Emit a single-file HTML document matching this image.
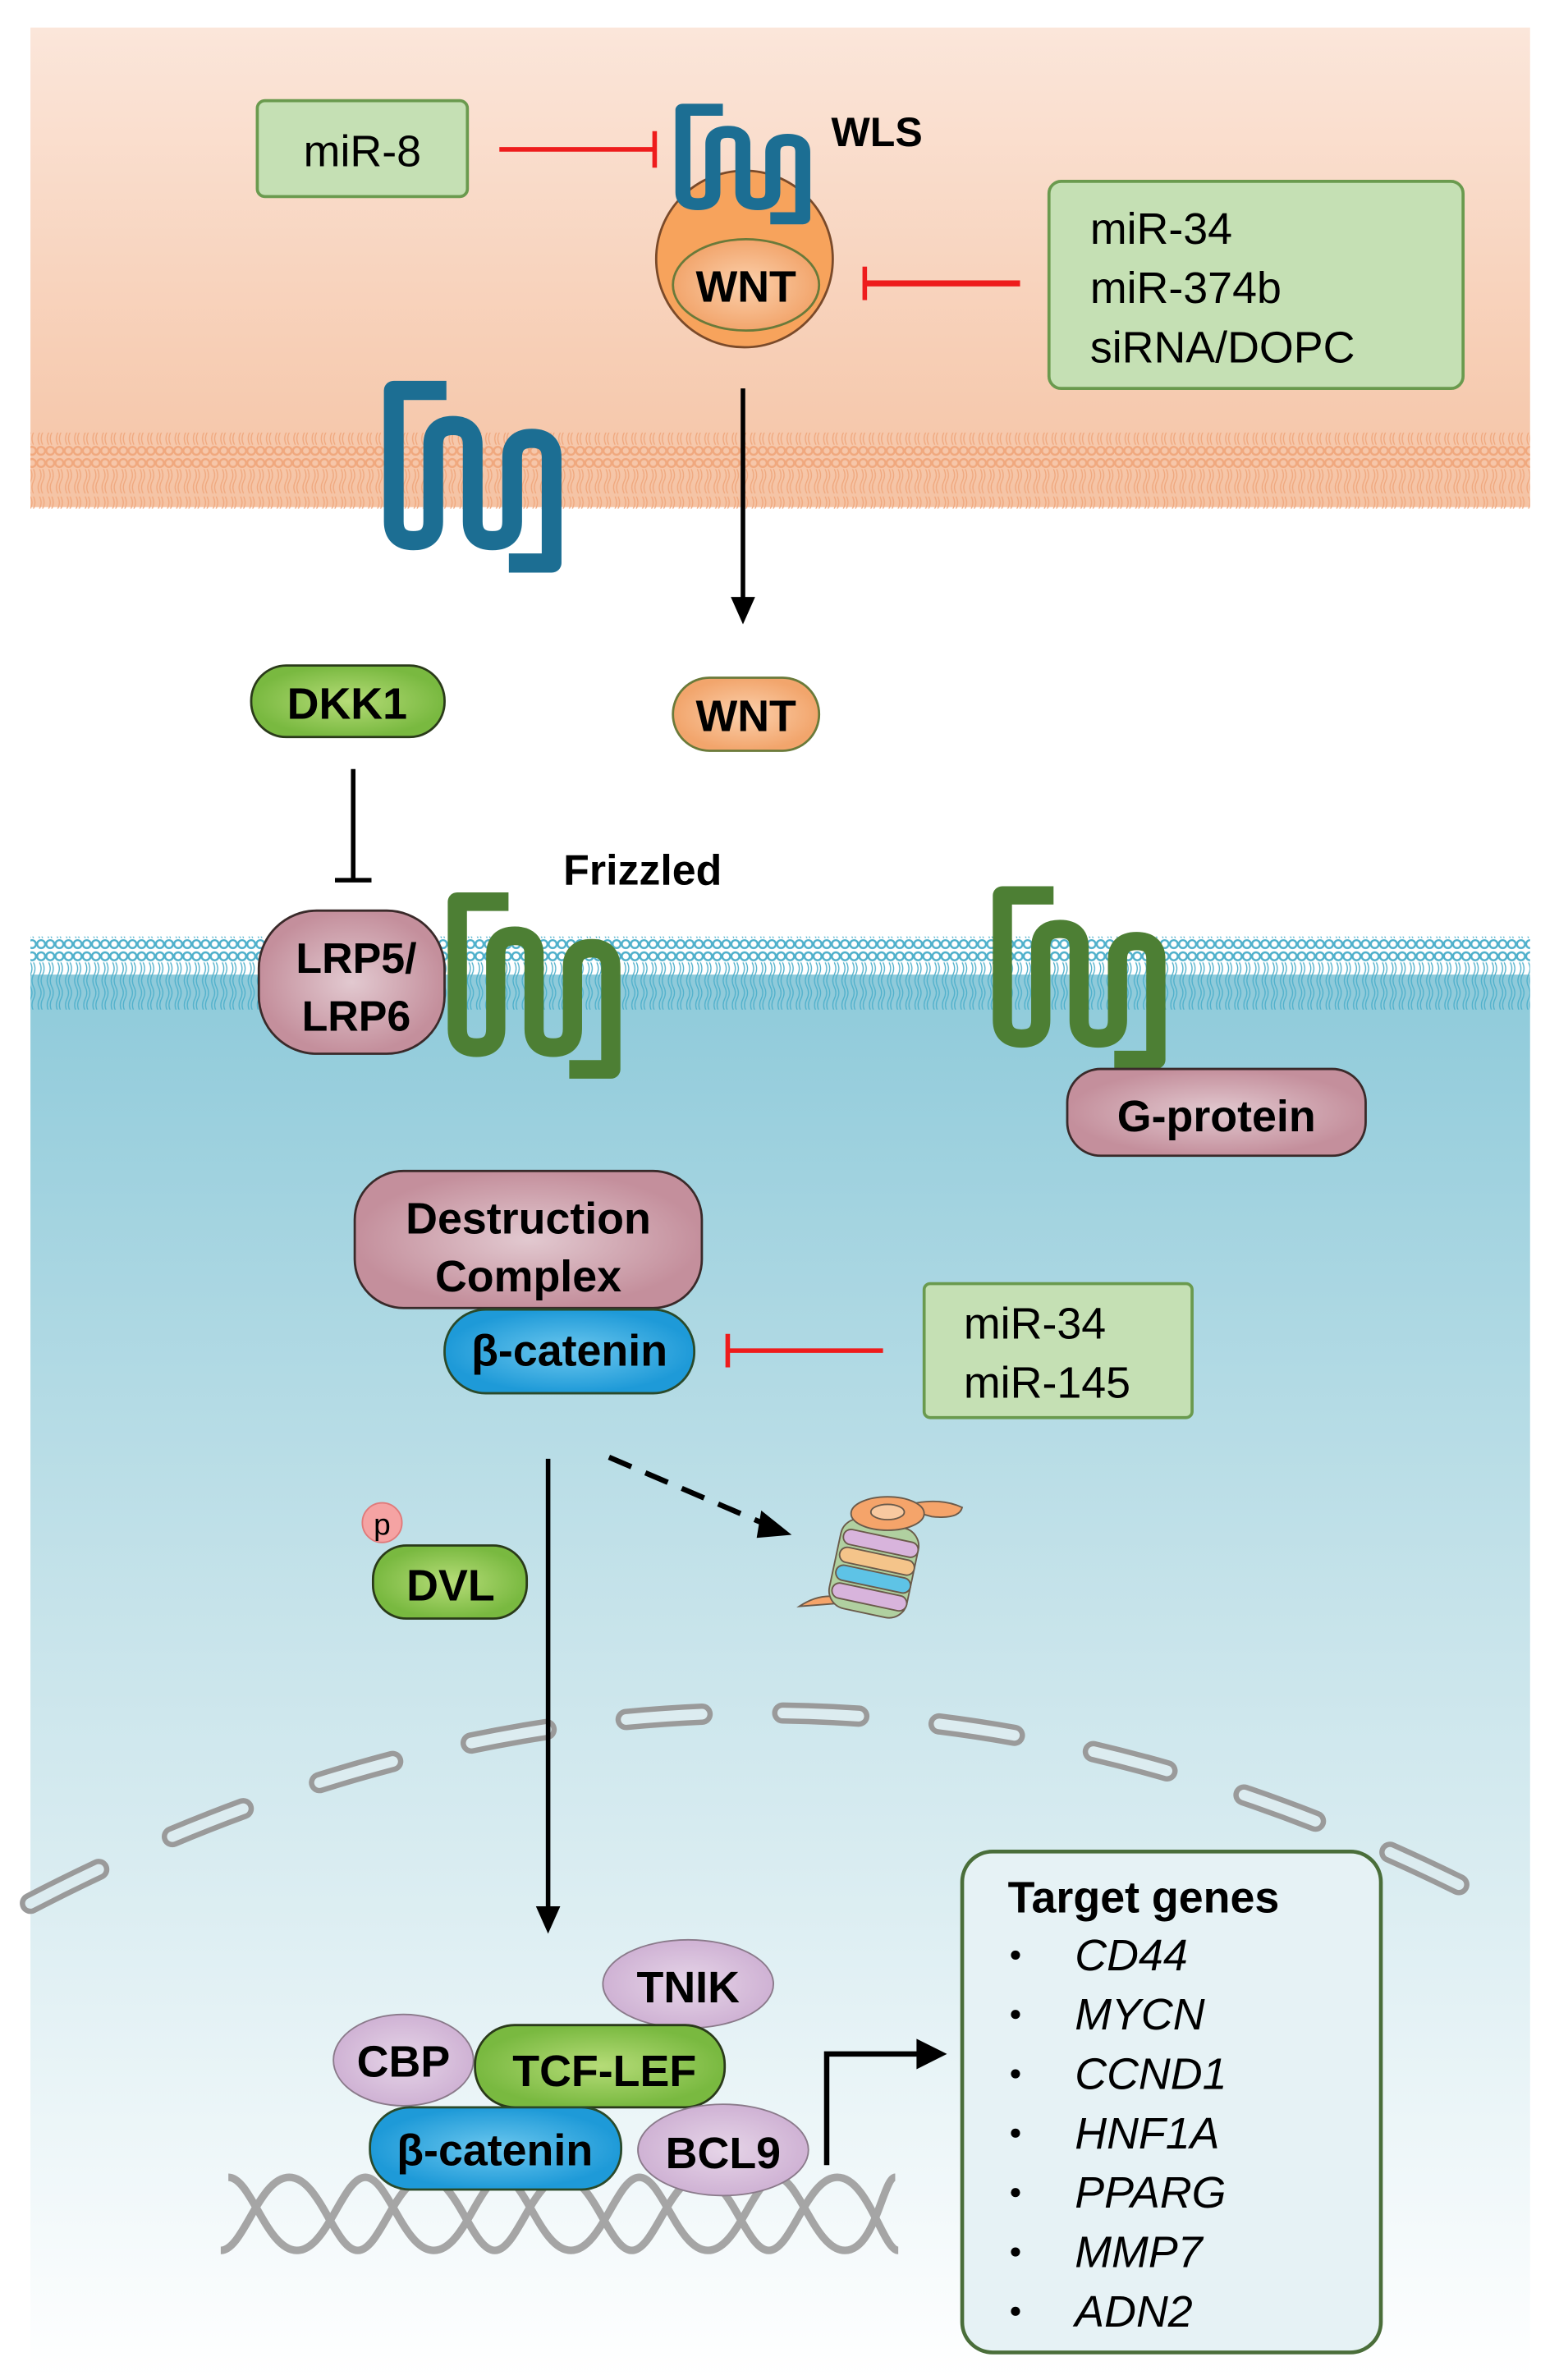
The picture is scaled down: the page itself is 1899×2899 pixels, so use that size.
<!DOCTYPE html>
<html><head><meta charset="utf-8"><style>html,body{margin:0;padding:0;background:#fff}svg{display:block}</style></head>
<body>
<svg width="1899" height="2899" viewBox="0 0 1024 1563" xmlns="http://www.w3.org/2000/svg" font-family="Liberation Sans, sans-serif">
<defs>
<linearGradient id="peach" x1="0" y1="0" x2="0" y2="1"><stop offset="0" stop-color="#fbe6da"/><stop offset="1" stop-color="#f5c3a4"/></linearGradient>
<linearGradient id="blue" x1="0" y1="0" x2="0" y2="1"><stop offset="0" stop-color="#8ecada"/><stop offset="0.45" stop-color="#c6e3ea"/><stop offset="1" stop-color="#ffffff"/></linearGradient>
<pattern id="lipP" width="6" height="50" patternUnits="userSpaceOnUse"><circle cx="3" cy="4" r="2.6" fill="none" stroke="#f0a87e" stroke-width="1.3"/><circle cx="3" cy="46" r="2.6" fill="none" stroke="#f0a87e" stroke-width="1.3"/><path d="M2,8 q2,4 0,8 q-2,4 0,8 M4,8 q2,4 0,8 q-2,4 0,8 M2,26 q2,4 0,8 q-2,4 0,8 M4,26 q2,4 0,8 q-2,4 0,8" fill="none" stroke="#f0a87e" stroke-width="0.7"/></pattern>
<pattern id="lipB" width="6" height="48" patternUnits="userSpaceOnUse"><circle cx="3" cy="4" r="2.6" fill="none" stroke="#4fb0cb" stroke-width="1.3"/><circle cx="3" cy="44" r="2.6" fill="none" stroke="#4fb0cb" stroke-width="1.3"/><path d="M2,8 q2,4 0,8 q-2,4 0,8 M4,8 q2,4 0,8 q-2,4 0,8 M2,24 q2,4 0,8 q-2,4 0,8 M4,24 q2,4 0,8 q-2,4 0,8" fill="none" stroke="#4fb0cb" stroke-width="0.7"/></pattern>
<radialGradient id="pink"><stop offset="0" stop-color="#e2c9d0"/><stop offset="1" stop-color="#c48f9c"/></radialGradient>
<radialGradient id="green"><stop offset="0" stop-color="#b6dc78"/><stop offset="1" stop-color="#79b940"/></radialGradient>
<radialGradient id="orange"><stop offset="0" stop-color="#fbd0ac"/><stop offset="1" stop-color="#f2a56c"/></radialGradient>
<radialGradient id="bcat"><stop offset="0" stop-color="#6cc7ee"/><stop offset="1" stop-color="#1e9ad8"/></radialGradient>
<radialGradient id="lav"><stop offset="0" stop-color="#e6d5e8"/><stop offset="1" stop-color="#cfb2d4"/></radialGradient>
<path id="serp" d="M40,6 H8 V88 Q8,100 20,100 Q32,100 32,88 V40 Q32,28 44,28 Q56,28 56,40 V88 Q56,100 68,100 Q80,100 80,88 V48 Q80,36 92,36 Q104,36 104,48 V114 H78" fill="none" stroke-width="12" stroke-linejoin="round"/>
</defs>

<rect x="20" y="18" width="985" height="315" fill="url(#peach)"/>
<rect x="20" y="284" width="985" height="50" fill="url(#lipP)"/>
<rect x="20" y="640" width="985" height="923" fill="url(#blue)"/>
<rect x="20" y="615" width="985" height="48" fill="url(#lipB)"/>

<path d="M20,1250 Q512,994 1005,1262" fill="none" stroke="#9a9a9a" stroke-width="14" stroke-dasharray="50,53" stroke-linecap="round"/>
<path d="M20,1250 Q512,994 1005,1262" fill="none" stroke="#dcecf0" stroke-width="7" stroke-dasharray="50,53" stroke-linecap="round"/>

<rect x="169" y="66" width="138" height="63" rx="5" fill="#c5e0b4" stroke="#6a9a4e" stroke-width="2"/>
<text x="238" y="109" font-size="29" text-anchor="middle">miR-8</text>
<line x1="328" y1="98" x2="430" y2="98" stroke="#ee1c1c" stroke-width="3"/>
<line x1="430" y1="86" x2="430" y2="110" stroke="#ee1c1c" stroke-width="3"/>

<ellipse cx="489" cy="170" rx="58" ry="58" fill="#f7a35c" stroke="#7a4a2a" stroke-width="1.5"/>
<use href="#serp" transform="translate(442,68) scale(0.82,0.66)" stroke="#1c6e93"/>
<ellipse cx="490" cy="187" rx="48" ry="30" fill="url(#orange)" stroke="#6a7a3a" stroke-width="1.5"/>
<text x="490" y="198" font-size="29" font-weight="bold" text-anchor="middle">WNT</text>
<text x="546" y="96" font-size="27" font-weight="bold">WLS</text>

<rect x="689" y="119" width="272" height="136" rx="8" fill="#c5e0b4" stroke="#6a9a4e" stroke-width="2"/>
<text x="716" y="160" font-size="29">miR-34</text>
<text x="716" y="199" font-size="29">miR-374b</text>
<text x="716" y="238" font-size="29">siRNA/DOPC</text>
<line x1="568" y1="186" x2="670" y2="186" stroke="#ee1c1c" stroke-width="4"/>
<line x1="568" y1="175" x2="568" y2="197" stroke="#ee1c1c" stroke-width="3"/>

<use href="#serp" transform="translate(250,250) scale(1.08,1.05)" stroke="#1c6e93"/>

<line x1="488" y1="255" x2="488" y2="395" stroke="#000" stroke-width="3"/>
<polygon points="480,392 496,392 488,410" fill="#000"/>

<rect x="165" y="437" width="127" height="47" rx="23" fill="url(#green)" stroke="#2a3a1a" stroke-width="1.5"/>
<text x="228" y="472" font-size="29" font-weight="bold" text-anchor="middle">DKK1</text>
<rect x="442" y="445" width="96" height="48" rx="24" fill="url(#orange)" stroke="#6a7a3a" stroke-width="1.5"/>
<text x="490" y="480" font-size="29" font-weight="bold" text-anchor="middle">WNT</text>
<line x1="232" y1="505" x2="232" y2="578" stroke="#000" stroke-width="3"/>
<line x1="220" y1="578" x2="244" y2="578" stroke="#000" stroke-width="3"/>

<text x="370" y="581" font-size="28" font-weight="bold">Frizzled</text>
<use href="#serp" transform="translate(292,586) scale(1.05,1.02)" stroke="#4d7f34"/>
<use href="#serp" transform="translate(650,582) scale(1.05,1.0)" stroke="#4d7f34"/>
<rect x="170" y="598" width="122" height="94" rx="38" fill="url(#pink)" stroke="#3a2a2a" stroke-width="1.5"/>
<text x="234" y="639" font-size="28" font-weight="bold" text-anchor="middle">LRP5/</text>
<text x="234" y="677" font-size="28" font-weight="bold" text-anchor="middle">LRP6</text>

<rect x="701" y="702" width="196" height="57" rx="22" fill="url(#pink)" stroke="#3a2a2a" stroke-width="1.5"/>
<text x="799" y="743" font-size="29" font-weight="bold" text-anchor="middle">G-protein</text>

<rect x="233" y="769" width="228" height="90" rx="32" fill="url(#pink)" stroke="#3a2a2a" stroke-width="1.5"/>
<text x="347" y="810" font-size="29" font-weight="bold" text-anchor="middle">Destruction</text>
<text x="347" y="848" font-size="29" font-weight="bold" text-anchor="middle">Complex</text>
<rect x="292" y="860" width="164" height="55" rx="27" fill="url(#bcat)" stroke="#2a4a2a" stroke-width="1.5"/>
<text x="374" y="897" font-size="29" font-weight="bold" text-anchor="middle">β-catenin</text>
<line x1="478" y1="887" x2="580" y2="887" stroke="#ee1c1c" stroke-width="3"/>
<line x1="478" y1="876" x2="478" y2="898" stroke="#ee1c1c" stroke-width="3"/>
<rect x="607" y="843" width="176" height="88" rx="4" fill="#c5e0b4" stroke="#6a9a4e" stroke-width="2"/>
<text x="633" y="879" font-size="29">miR-34</text>
<text x="633" y="918" font-size="29">miR-145</text>

<line x1="360" y1="958" x2="360" y2="1255" stroke="#000" stroke-width="3"/>
<polygon points="352,1252 368,1252 360,1270" fill="#000"/>
<line x1="400" y1="957" x2="505" y2="1002" stroke="#000" stroke-width="3.5" stroke-dasharray="16,10"/>
<polygon points="500,992 520,1008 497,1010" fill="#000"/>

<circle cx="251" cy="1000" r="13" fill="#f5a3a3" stroke="#e07a7a"/>
<text x="251" y="1008" font-size="20" text-anchor="middle">p</text>
<rect x="245" y="1015" width="101" height="48" rx="22" fill="url(#green)" stroke="#2a3a1a" stroke-width="1.5"/>
<text x="296" y="1051" font-size="29" font-weight="bold" text-anchor="middle">DVL</text>

<g stroke="#6a5a4a" stroke-width="1">
<path d="M525,1055 Q540,1045 555,1050 L585,1060 Q600,1060 590,1050 Z" fill="#f5a46a"/>
<rect x="548" y="1000" width="52" height="60" rx="12" transform="rotate(12 574 1030)" fill="#b0d0a0"/>
<rect x="550" y="1008" width="50" height="10" rx="5" transform="rotate(12 574 1030)" fill="#d8b4dc"/>
<rect x="550" y="1020" width="50" height="10" rx="5" transform="rotate(12 574 1030)" fill="#f4c48a"/>
<rect x="550" y="1032" width="50" height="10" rx="5" transform="rotate(12 574 1030)" fill="#5ec3e6"/>
<rect x="550" y="1044" width="50" height="10" rx="5" transform="rotate(12 574 1030)" fill="#d8b4dc"/>
<path d="M590,990 Q615,982 632,990 Q630,998 612,996 Z" fill="#f5a46a"/>
<ellipse cx="583" cy="994" rx="24" ry="11" fill="#f5a46a"/>
<ellipse cx="583" cy="993" rx="11" ry="5" fill="#f8c9a0"/>
</g>

<g fill="none" stroke="#a5a5a5" stroke-width="5">
<path d="M145,1478 C160,1478 170,1430 190,1430 S220,1478 235,1478 S260,1430 280,1430 S310,1478 325,1478 S350,1430 370,1430 S400,1478 415,1478 S440,1430 460,1430 S490,1478 505,1478 S530,1430 550,1430 S580,1478 590,1478"/>
<path d="M150,1430 C165,1430 175,1478 195,1478 S225,1430 240,1430 S265,1478 285,1478 S315,1430 330,1430 S355,1478 375,1478 S405,1430 420,1430 S445,1478 465,1478 S495,1430 510,1430 S535,1478 555,1478 S580,1430 588,1430"/>
</g>

<ellipse cx="452" cy="1303" rx="56" ry="29" fill="url(#lav)" stroke="#8a7a8a" stroke-width="1"/>
<text x="452" y="1315" font-size="29" font-weight="bold" text-anchor="middle">TNIK</text>
<ellipse cx="265" cy="1353" rx="46" ry="30" fill="url(#lav)" stroke="#8a7a8a" stroke-width="1"/>
<text x="265" y="1364" font-size="29" font-weight="bold" text-anchor="middle">CBP</text>
<rect x="312" y="1330" width="164" height="54" rx="26" fill="url(#green)" stroke="#2a3a1a" stroke-width="1.5"/>
<text x="397" y="1370" font-size="29" font-weight="bold" text-anchor="middle">TCF-LEF</text>
<ellipse cx="475" cy="1412" rx="56" ry="30" fill="url(#lav)" stroke="#8a7a8a" stroke-width="1"/>
<text x="475" y="1424" font-size="29" font-weight="bold" text-anchor="middle">BCL9</text>
<rect x="243" y="1384" width="165" height="54" rx="26" fill="url(#bcat)" stroke="#2a4a2a" stroke-width="1.5"/>
<text x="325" y="1422" font-size="29" font-weight="bold" text-anchor="middle">β-catenin</text>

<polyline points="543,1422 543,1349 605,1349" fill="none" stroke="#000" stroke-width="3.5"/>
<polygon points="602,1339 622,1349 602,1359" fill="#000"/>

<rect x="632" y="1216" width="275" height="329" rx="20" fill="#e6f2f5" stroke="#4a6e3a" stroke-width="2.5"/>
<text x="662" y="1256" font-size="29" font-weight="bold">Target genes</text>
<g font-size="29" font-style="italic">
<text x="706" y="1294">CD44</text><text x="706" y="1333">MYCN</text><text x="706" y="1372">CCND1</text><text x="706" y="1411">HNF1A</text><text x="706" y="1450">PPARG</text><text x="706" y="1489">MMP7</text><text x="706" y="1528">ADN2</text>
</g>
<g fill="#000"><circle cx="667" cy="1284" r="3"/><circle cx="667" cy="1323" r="3"/><circle cx="667" cy="1362" r="3"/><circle cx="667" cy="1401" r="3"/><circle cx="667" cy="1440" r="3"/><circle cx="667" cy="1479" r="3"/><circle cx="667" cy="1518" r="3"/></g>
</svg>
</body></html>
